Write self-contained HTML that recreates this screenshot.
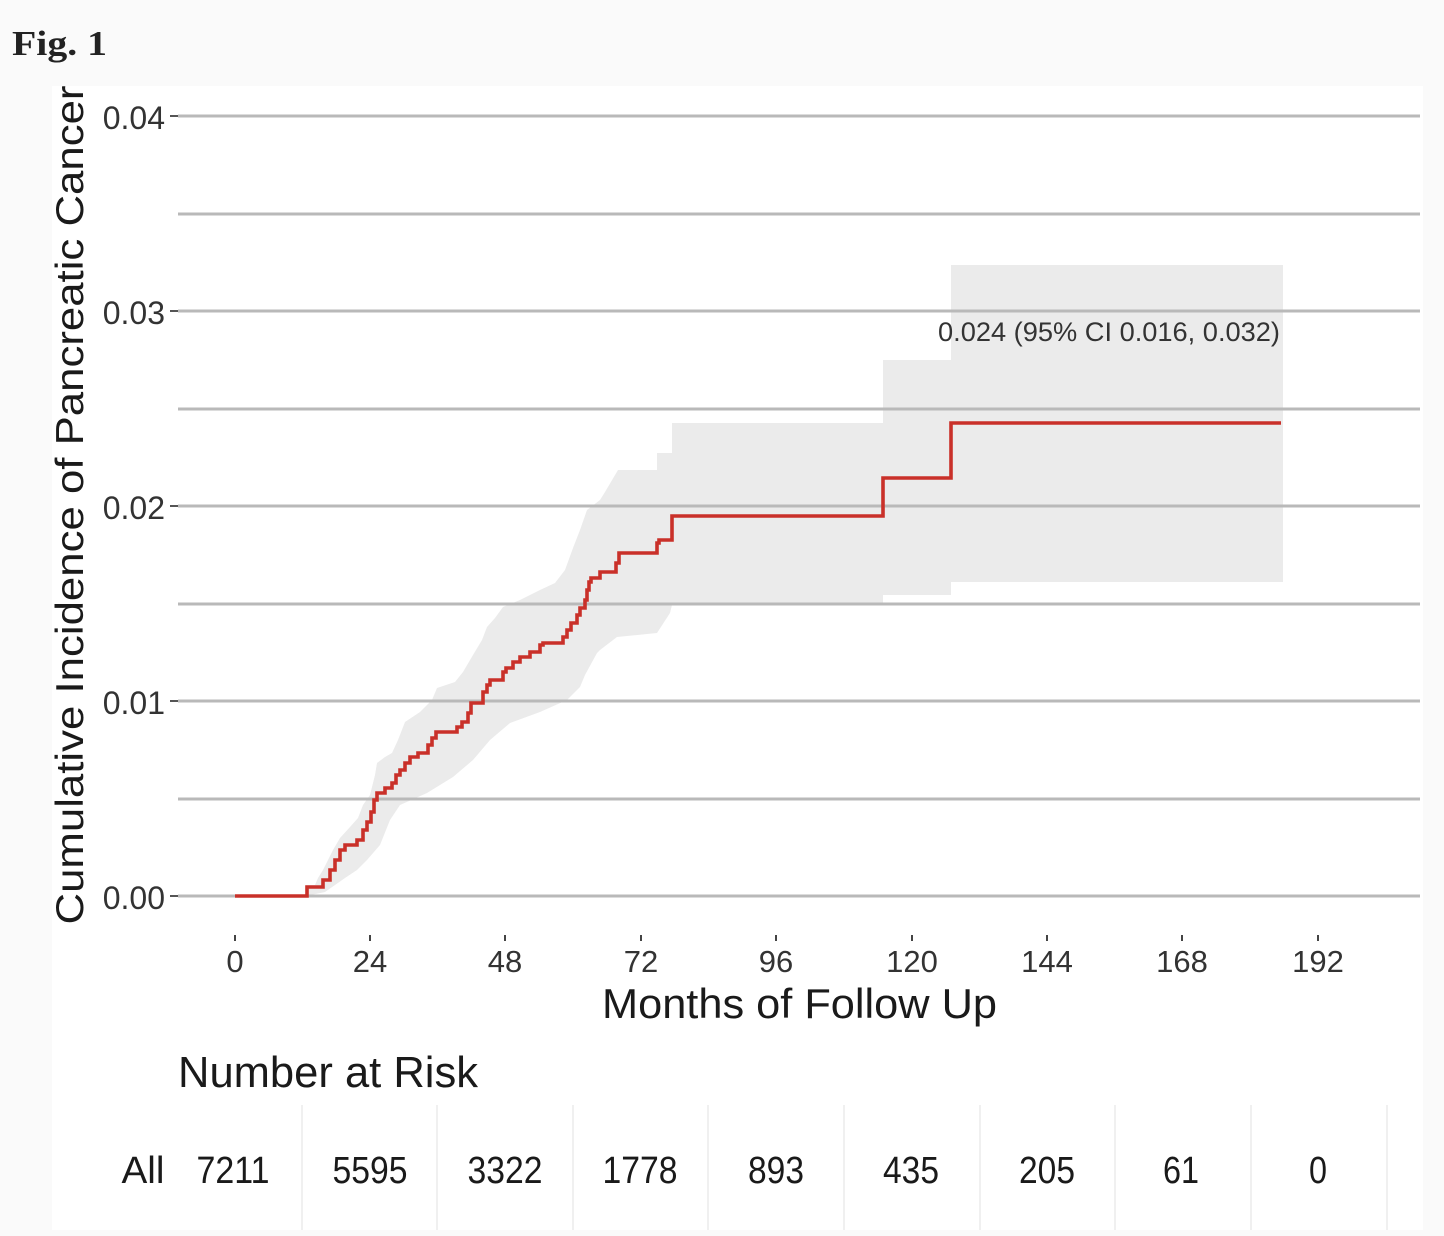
<!DOCTYPE html>
<html>
<head>
<meta charset="utf-8">
<style>
  html, body { margin: 0; padding: 0; background: #fafafa; }
  svg { display: block; }
</style>
</head>
<body>
<svg width="1444" height="1236" viewBox="0 0 1444 1236" xmlns="http://www.w3.org/2000/svg">
  <rect x="0" y="0" width="1444" height="1236" fill="#fafafa"/>
  <text x="12" y="55" font-family="Liberation Serif, serif" font-weight="bold" font-size="35" fill="#222" textLength="95" lengthAdjust="spacingAndGlyphs">Fig. 1</text>

  <!-- white figure panel -->
  <rect x="52" y="86" width="1371" height="1144" fill="#ffffff"/>

  <!-- CI band -->
  <polygon fill="#ebebeb" points="
    306,896 306,885 315,885 318,878 323,870 328,860 333,850 340,838 350,827 358,818 363,805 370,795 375,775 377,763 385,757 392,753 398,740 405,722 420,712 432,700 437,688 455,682 463,672 473,655 482,640 487,627 495,618 503,607 520,600 540,590 555,583 565,570 573,548 580,530 587,510 600,500 605,492 618,470 657,470 657,453 672,453 672,423 883,423 883,360 951,360 951,265 1283,265
    1283,582 951,582 951,595 883,595 883,605 672,605 670,613 657,633 617,637 600,650 597,653 585,675 580,687 567,700 540,712 510,723 490,740 473,760 453,777 427,793 400,805 390,820 380,845 367,860 357,870 345,878 335,885 325,892 306,896"/>

  <!-- gridlines -->
  <g stroke="#b9b9b9" stroke-width="3" fill="none">
    <line x1="178" y1="116" x2="1420" y2="116"/>
    <line x1="178" y1="214" x2="1420" y2="214"/>
    <line x1="178" y1="311" x2="1420" y2="311"/>
    <line x1="178" y1="409" x2="1420" y2="409"/>
    <line x1="178" y1="506" x2="1420" y2="506"/>
    <line x1="178" y1="604" x2="1420" y2="604"/>
    <line x1="178" y1="701" x2="1420" y2="701"/>
    <line x1="178" y1="799" x2="1420" y2="799"/>
    <line x1="178" y1="896" x2="1420" y2="896"/>
  </g>
  <!-- y ticks -->
  <g stroke="#555" stroke-width="2">
    <line x1="170" y1="116" x2="178" y2="116"/>
    <line x1="170" y1="311" x2="178" y2="311"/>
    <line x1="170" y1="506" x2="178" y2="506"/>
    <line x1="170" y1="701" x2="178" y2="701"/>
    <line x1="170" y1="896" x2="178" y2="896"/>
  </g>
  <!-- y tick labels -->
  <g font-family="Liberation Sans, sans-serif" font-size="32" fill="#333" text-anchor="end">
    <text x="165" y="129">0.04</text>
    <text x="165" y="324">0.03</text>
    <text x="165" y="519">0.02</text>
    <text x="165" y="714">0.01</text>
    <text x="165" y="909">0.00</text>
  </g>
  <!-- y title -->
  <text transform="translate(83,505) rotate(-90)" x="0" y="0" text-anchor="middle" font-family="Liberation Sans, sans-serif" font-size="39" fill="#1a1a1a" textLength="839" lengthAdjust="spacingAndGlyphs">Cumulative Incidence of Pancreatic Cancer</text>

  <!-- x ticks -->
  <g stroke="#444" stroke-width="2">
    <line x1="235" y1="935" x2="235" y2="941"/>
    <line x1="370" y1="935" x2="370" y2="941"/>
    <line x1="505" y1="935" x2="505" y2="941"/>
    <line x1="641" y1="935" x2="641" y2="941"/>
    <line x1="776" y1="935" x2="776" y2="941"/>
    <line x1="912" y1="935" x2="912" y2="941"/>
    <line x1="1047" y1="935" x2="1047" y2="941"/>
    <line x1="1182" y1="935" x2="1182" y2="941"/>
    <line x1="1318" y1="935" x2="1318" y2="941"/>
  </g>
  <g font-family="Liberation Sans, sans-serif" font-size="31" fill="#333" text-anchor="middle">
    <text x="235" y="972">0</text>
    <text x="370" y="972">24</text>
    <text x="505" y="972">48</text>
    <text x="641" y="972">72</text>
    <text x="776" y="972">96</text>
    <text x="912" y="972">120</text>
    <text x="1047" y="972">144</text>
    <text x="1182" y="972">168</text>
    <text x="1318" y="972">192</text>
  </g>
  <text x="602" y="1018" font-family="Liberation Sans, sans-serif" font-size="42" fill="#1a1a1a" textLength="395" lengthAdjust="spacingAndGlyphs">Months of Follow Up</text>

  <!-- red step line -->
  <path fill="none" stroke="#c93029" stroke-width="3.6" stroke-linejoin="miter" d="M235,896 H307 V887 H323 V880 H330 V870 H335 V860 H340 V850 H345 V845 H357 V840 H363 V830 H367 V822 H371 V812 H374 V800 H377 V793 H385 V788 H392 V783 H396 V775 H400 V770 H405 V763 H410 V757 H418 V753 H428 V745 H432 V738 H436 V732 H457 V727 H462 V722 H468 V713 H471 V703 H483 V692 H487 V685 H490 V680 H503 V672 H506 V668 H513 V662 H520 V657 H530 V652 H540 V645 H543 V643 H563 V637 H567 V630 H571 V623 H577 V615 H580 V608 H585 V600 H587 V590 H589 V582 H591 V578 H600 V572 H616 V563 H619 V553 H657 V543 H659 V540 H672 V516 H883 V478 H951 V423 H1281"/>

  <!-- annotation -->
  <text x="938" y="341" font-family="Liberation Sans, sans-serif" font-size="27" fill="#333" textLength="342" lengthAdjust="spacingAndGlyphs">0.024 (95% CI 0.016, 0.032)</text>

  <!-- risk table -->
  <text x="178" y="1087" font-family="Liberation Sans, sans-serif" font-size="44" fill="#1a1a1a" textLength="300" lengthAdjust="spacingAndGlyphs">Number at Risk</text>
  <g stroke="#f0f0f0" stroke-width="2">
    <line x1="302" y1="1105" x2="302" y2="1230"/>
    <line x1="437" y1="1105" x2="437" y2="1230"/>
    <line x1="573" y1="1105" x2="573" y2="1230"/>
    <line x1="708" y1="1105" x2="708" y2="1230"/>
    <line x1="844" y1="1105" x2="844" y2="1230"/>
    <line x1="980" y1="1105" x2="980" y2="1230"/>
    <line x1="1115" y1="1105" x2="1115" y2="1230"/>
    <line x1="1251" y1="1105" x2="1251" y2="1230"/>
    <line x1="1387" y1="1105" x2="1387" y2="1230"/>
  </g>
  <g font-family="Liberation Sans, sans-serif" font-size="38" fill="#1a1a1a" text-anchor="middle">
    <text x="143" y="1183" textLength="43" lengthAdjust="spacingAndGlyphs">All</text>
    <text x="233" y="1183" textLength="73" lengthAdjust="spacingAndGlyphs">7211</text>
    <text x="370" y="1183" textLength="75" lengthAdjust="spacingAndGlyphs">5595</text>
    <text x="505" y="1183" textLength="75" lengthAdjust="spacingAndGlyphs">3322</text>
    <text x="640" y="1183" textLength="75" lengthAdjust="spacingAndGlyphs">1778</text>
    <text x="776" y="1183" textLength="56" lengthAdjust="spacingAndGlyphs">893</text>
    <text x="911" y="1183" textLength="56" lengthAdjust="spacingAndGlyphs">435</text>
    <text x="1047" y="1183" textLength="56" lengthAdjust="spacingAndGlyphs">205</text>
    <text x="1181" y="1183" textLength="36" lengthAdjust="spacingAndGlyphs">61</text>
    <text x="1318" y="1183" textLength="18" lengthAdjust="spacingAndGlyphs">0</text>
  </g>
</svg>
</body>
</html>
